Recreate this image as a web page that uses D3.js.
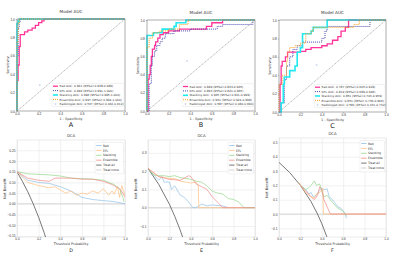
<!DOCTYPE html>
<html>
<head>
<meta charset="utf-8">
<script src="https://cdn.jsdelivr.net/npm/d3@7"></script>
<style>
  body { margin: 0; background: #fff; }
  svg { display: block; font-family: "DejaVu Sans", sans-serif; }
</style>
</head>
<body>
<div id="chart"></div>
<script>
// ---- ROC data: [1 - specificity, sensitivity] step corners ----
const rocTicks = [0, 0.2, 0.4, 0.6, 0.8, 1.0]

const rocA_rad = [[0,0],[0,0.33],[0.01,0.5],[0.02,0.7],[0.03,0.83],[0.07,0.86],[0.1,0.88],[0.14,0.9],[0.17,0.93],[0.2,0.96],[0.23,0.98],[0.25,1],[1,1]]
const rocA_dtl = [[0,0],[0,0.6],[0.01,0.9],[0.02,0.97],[0.03,1],[1,1]]
const rocA_stk = [[0,0],[0,0.95],[0.01,0.98],[0.02,1],[1,1]]
const rocA_ens = [[0,0],[0,0.75],[0.01,0.95],[0.02,1],[1,1]]
const rocA_doc = [0.21, 0.28]
const rocA_labels = [
  "Rad AUC: 0.961 (95%CI 0.938-0.986)",
  "DTL AUC: 0.996 (95%CI 0.991-1.000)",
  "Stacking AUC: 0.998 (95%CI 0.995-1.000)",
  "Ensemble AUC: 0.997 (95%CI 0.994-1.000)",
  "Radiologist AUC: 0.537 (95%CI 0.462-0.612)"]

const rocB_rad = [[0,0],[0.01,0.35],[0.02,0.4],[0.03,0.5],[0.04,0.6],[0.05,0.68],[0.07,0.72],[0.08,0.76],[0.1,0.8],[0.12,0.84],[0.15,0.86],[0.2,0.88],[0.3,0.9],[0.55,0.93],[0.6,0.97],[0.7,1],[1,1]]
const rocB_dtl = [[0,0],[0.02,0.3],[0.04,0.5],[0.05,0.6],[0.07,0.66],[0.09,0.72],[0.12,0.76],[0.14,0.8],[0.17,0.85],[0.25,0.88],[0.4,0.9],[0.65,0.93],[0.7,0.95],[0.98,1],[1,1]]
const rocB_stk = [[0,0],[0,0.83],[0.06,0.86],[0.14,0.9],[0.25,0.93],[0.27,0.97],[0.36,1],[1,1]]
const rocB_ens = [[0,0],[0,0.7],[0.02,0.8],[0.05,0.86],[0.12,0.88],[0.2,0.9],[0.3,0.95],[0.38,1],[1,1]]
const rocB_doc = [0.37, 0.545]
const rocB_labels = [
  "Rad AUC: 0.899 (95%CI 0.833-0.965)",
  "DTL AUC: 0.893 (95%CI 0.821-0.965)",
  "Stacking AUC: 0.965 (95%CI 0.931-0.999)",
  "Ensemble AUC: 0.961 (95%CI 0.924-0.998)",
  "Radiologist AUC: 0.587 (95%CI 0.484-0.690)"]

const rocC_rad = [[0,0],[0.01,0.3],[0.02,0.5],[0.03,0.55],[0.06,0.6],[0.08,0.65],[0.2,0.66],[0.25,0.68],[0.3,0.7],[0.4,0.72],[0.45,0.74],[0.5,0.78],[0.55,0.82],[0.58,0.88],[0.62,0.92],[0.65,1],[1,1]]
const rocC_dtl = [[0,0],[0.02,0.1],[0.05,0.35],[0.07,0.5],[0.1,0.6],[0.13,0.68],[0.17,0.72],[0.22,0.76],[0.4,0.8],[0.43,0.88],[0.45,0.93],[0.85,1],[1,1]]
const rocC_stk = [[0,0],[0.02,0.1],[0.04,0.3],[0.05,0.38],[0.1,0.45],[0.15,0.5],[0.17,0.65],[0.2,0.7],[0.22,0.85],[0.3,0.88],[0.32,0.92],[0.45,1],[1,1]]
const rocC_ens = [[0,0],[0,0.3],[0.03,0.4],[0.07,0.55],[0.08,0.65],[0.1,0.7],[0.15,0.72],[0.2,0.75],[0.25,0.85],[0.3,0.88],[0.32,0.92],[0.7,0.95],[0.75,1],[1,1]]
const rocC_doc = [0.35, 0.51]
const rocC_labels = [
  "Rad AUC: 0.787 (95%CI 0.645-0.929)",
  "DTL AUC: 0.819 (95%CI 0.689-0.948)",
  "Stacking AUC: 0.851 (95%CI 0.743-0.959)",
  "Ensemble AUC: 0.851 (95%CI 0.736-0.966)",
  "Radiologist AUC: 0.581 (95%CI 0.431-0.732)"]

// ---- DCA data: [threshold, net benefit] ----
const dcaNames = ["Red", "EFL", "Stacking", "Ensemble", "Treat all", "Treat none"]
const dcaTicksX = [0, 0.2, 0.4, 0.6, 0.8, 1.0]

const dcaD_red = [[0,0.15],[0.1,0.11],[0.2,0.1],[0.3,0.095],[0.4,0.08],[0.5,0.06],[0.6,0.03],[0.7,0.02],[0.8,0.015],[0.9,0.01],[1,0]]
const dcaD_efl = [[0,0.15],[0.1,0.1],[0.2,0.085],[0.3,0.075],[0.35,0.08],[0.4,0.065],[0.45,0.05],[0.5,0.06],[0.55,0.04],[0.6,0.05],[0.65,0.045],[0.7,0.06],[0.75,0.05],[0.8,0.07],[0.85,0.04],[0.88,0.06],[0.9,0.045],[0.93,0.08],[0.95,0.03],[0.97,0.085],[1,0.04]]
const dcaD_stk = [[0,0.15],[0.1,0.14],[0.3,0.135],[0.4,0.13],[0.5,0.12],[0.7,0.115],[0.8,0.11],[0.9,0.09],[0.95,0.07],[0.98,0.03],[0.99,0.01]]
const dcaD_ens = [[0,0.15],[0.1,0.12],[0.2,0.11],[0.3,0.105],[0.35,0.12],[0.5,0.12],[0.6,0.115],[0.7,0.115],[0.8,0.105],[0.88,0.09],[0.95,0.07],[0.98,0.05],[1,0.03]]
const dcaD_all = [[0,0.15],[0.05,0.105],[0.1,0.056],[0.15,0.0],[0.2,-0.0625],[0.25,-0.133],[0.27,-0.164]]
const dcaD_none = [[0,0],[1,0]]

const dcaE_red = [[0,0.215],[0.1,0.15],[0.13,0.17],[0.15,0.14],[0.2,0.14],[0.22,0.1],[0.25,0.12],[0.3,0.07],[0.33,0.06],[0.35,0.05],[0.38,0.03],[0.42,0],[0.45,0],[0.5,0.02],[0.55,0.01],[0.6,0.015],[0.7,0.01],[0.75,0]]
const dcaE_efl = [[0,0.215],[0.1,0.17],[0.15,0.165],[0.2,0.16],[0.25,0.16],[0.3,0.145],[0.35,0.14],[0.4,0.135],[0.45,0.14],[0.47,0.12],[0.475,0],[1,0]]
const dcaE_stk = [[0,0.215],[0.05,0.18],[0.1,0.175],[0.15,0.175],[0.2,0.17],[0.25,0.175],[0.3,0.165],[0.35,0.16],[0.4,0.155],[0.45,0.145],[0.5,0.14],[0.55,0.12],[0.6,0.09],[0.65,0.08],[0.7,0.075],[0.75,0.05],[0.8,0.045],[0.85,0.03],[0.88,0.01],[0.9,0],[1,0]]
const dcaE_ens = [[0,0.215],[0.1,0.17],[0.2,0.155],[0.3,0.15],[0.35,0.165],[0.38,0.175],[0.4,0.17],[0.45,0.13],[0.5,0.115],[0.55,0.1],[0.6,0.06],[0.65,0.03],[0.7,0],[1,0]]
const dcaE_all = [[0,0.215],[0.1,0.128],[0.2,0.019],[0.25,-0.047],[0.3,-0.121],[0.33,-0.172]]
const dcaE_none = [[0,0],[1,0]]

const dcaF_red = [[0.18,0.22],[0.2,0.2],[0.25,0.17],[0.28,0.14],[0.3,0.15],[0.32,0.12],[0.35,0.13],[0.38,0.17],[0.4,0.18],[0.42,0.17],[0.45,0.175],[0.47,0.12],[0.5,0.1],[0.52,0.08],[0.55,0.05],[0.58,0.04],[0.6,0.02],[0.62,0],[0.63,-0.03]]
const dcaF_efl = [[0.18,0.22],[0.2,0.2],[0.25,0.15],[0.3,0.12],[0.33,0.11],[0.35,0.14],[0.38,0.15],[0.4,0.17],[0.41,0.18],[0.415,0],[1,0]]
const dcaF_stk = [[0.18,0.22],[0.2,0.2],[0.25,0.17],[0.28,0.185],[0.3,0.2],[0.33,0.23],[0.35,0.2],[0.38,0.21],[0.4,0.16],[0.42,0.12],[0.45,0.13],[0.48,0.1],[0.5,0.08],[0.55,0.04],[0.6,0.02],[0.63,-0.01]]
const dcaF_ens = [[0.18,0.22],[0.2,0.2],[0.25,0.16],[0.3,0.12],[0.33,0.1],[0.36,0.13],[0.38,0.19],[0.4,0.17],[0.42,0.1],[0.45,0.05],[0.48,0],[1,0]]
const dcaF_all = [[0,0.36],[0.1,0.289],[0.2,0.2],[0.3,0.086],[0.36,0],[0.4,-0.067],[0.45,-0.164]]
const dcaF_none = [[0,0],[1,0]]

const rocStyle = [
  { color: "#ff3399", width: 1.3, dash: null },
  { color: "#4a4ab0", width: 1.0, dash: "1,1" },
  { color: "#22e8f0", width: 1.6, dash: null },
  { color: "#ff9f1c", width: 1.0, dash: "1,1" }
]
const dcaColors = ["#8fc0e6", "#ffbf7f", "#93d68b", "#f08a85", "#555555", "#c8c8c8"]

const svg = d3.select("#chart").append("svg")
  .attr("width", 400).attr("height", 253)

function rocPanel(box, series, doc, labels, title, letter) {
  const x = d3.scaleLinear().domain([0, 1]).range([box.x0, box.x1])
  const y = d3.scaleLinear().domain([0, 1]).range([box.y1, box.y0])
  const g = svg.append("g")

  g.append("g")
    .attr("transform", `translate(0,${box.y1})`)
    .call(d3.axisBottom(x).tickValues(rocTicks).tickFormat(d3.format(".1f")).tickSize(1.2).tickPadding(1))
    .call(a => a.select(".domain").remove())
    .call(a => a.selectAll("line").attr("stroke", "#555").attr("stroke-width", 0.4))
    .call(a => a.selectAll("text").attr("font-size", 3.2).attr("fill", "#333"))
  g.append("g")
    .attr("transform", `translate(${box.x0},0)`)
    .call(d3.axisLeft(y).tickValues(rocTicks).tickFormat(d3.format(".1f")).tickSize(1.2).tickPadding(1))
    .call(a => a.select(".domain").remove())
    .call(a => a.selectAll("line").attr("stroke", "#555").attr("stroke-width", 0.4))
    .call(a => a.selectAll("text").attr("font-size", 3.2).attr("fill", "#333"))

  // chance line
  g.append("path")
    .attr("d", d3.line()([[x(0), y(0)], [x(1), y(1)]]))
    .attr("stroke", "#666").attr("stroke-width", 0.5).attr("stroke-dasharray", "1.2,0.8").attr("fill", "none")

  const line = d3.line().x(d => x(d[0])).y(d => y(d[1])).curve(d3.curveStepAfter)
  series.forEach((s, i) => {
    g.append("path").attr("d", line(s))
      .attr("fill", "none")
      .attr("stroke", rocStyle[i].color)
      .attr("stroke-width", rocStyle[i].width)
      .attr("stroke-dasharray", rocStyle[i].dash)
  })

  g.append("text").attr("x", x(doc[0])).attr("y", y(doc[1]) + 1)
    .attr("text-anchor", "middle").attr("font-size", 3).attr("fill", "#6c8fe0").text("x")

  g.append("rect")
    .attr("x", box.x0).attr("y", box.y0)
    .attr("width", box.x1 - box.x0).attr("height", box.y1 - box.y0)
    .attr("fill", "none").attr("stroke", "#777").attr("stroke-width", 0.6)

  // legend
  const lg = g.append("g")
  lg.append("rect")
    .attr("x", box.lx).attr("y", y(0.3)).attr("width", box.x1 - 1 - box.lx).attr("height", y(0.05) - y(0.3))
    .attr("fill", "#fff").attr("fill-opacity", 0.85).attr("stroke", "#ddd").attr("stroke-width", 0.4).attr("rx", 0.8)
  labels.forEach((t, i) => {
    const ly = y(0.3) + 2.8 + i * 4.4
    if (i < 4) {
      lg.append("line").attr("x1", box.lx + 1).attr("x2", box.lx + 6).attr("y1", ly).attr("y2", ly)
        .attr("stroke", rocStyle[i].color).attr("stroke-width", rocStyle[i].width)
        .attr("stroke-dasharray", rocStyle[i].dash)
    } else {
      lg.append("text").attr("x", box.lx + 3.5).attr("y", ly + 1).attr("text-anchor", "middle")
        .attr("font-size", 3).attr("fill", "#6c8fe0").text("x")
    }
    lg.append("text").attr("x", box.lx + 7.5).attr("y", ly + 1.1)
      .attr("font-size", 2.9).attr("fill", "#333").text(t)
  })

  const cx = (box.x0 + box.x1) / 2
  g.append("text").attr("x", cx).attr("y", box.y0 - 6).attr("text-anchor", "middle")
    .attr("font-size", 4.2).attr("fill", "#333").text(title)
  g.append("text").attr("x", cx).attr("y", box.y1 + 8.5).attr("text-anchor", "middle")
    .attr("font-size", 3.4).attr("fill", "#333").text("1 - Specificity")
  g.append("text").attr("transform", `translate(${box.x0 - 8},${(box.y0 + box.y1) / 2}) rotate(-90)`)
    .attr("text-anchor", "middle").attr("font-size", 3.4).attr("fill", "#333").text("Sensitivity")
  g.append("text").attr("x", cx).attr("y", box.y1 + 15.5).attr("text-anchor", "middle")
    .attr("font-size", 6.5).attr("fill", "#222").text(letter)
}

function dcaPanel(box, series, yTicks, fmt, letter, id) {
  const x = d3.scaleLinear().domain([0, 1]).range([box.x0, box.x1])
  const y = d3.scaleLinear().domain(box.dom).range([box.y1, box.y0])
  const g = svg.append("g")

  g.append("clipPath").attr("id", id).append("rect")
    .attr("x", box.x0).attr("y", box.y0).attr("width", box.x1 - box.x0).attr("height", box.y1 - box.y0)

  g.append("g")
    .attr("transform", `translate(0,${box.y1})`)
    .call(d3.axisBottom(x).tickValues(dcaTicksX).tickFormat(d3.format(".1f")).tickSize(-(box.y1 - box.y0)).tickPadding(1.2))
    .call(a => a.select(".domain").remove())
    .call(a => a.selectAll("line").attr("stroke", "#e3e3e3").attr("stroke-width", 0.5))
    .call(a => a.selectAll("text").attr("font-size", 3.1).attr("fill", "#333"))
  g.append("g")
    .attr("transform", `translate(${box.x0},0)`)
    .call(d3.axisLeft(y).tickValues(yTicks).tickFormat(d3.format(fmt)).tickSize(-(box.x1 - box.x0)).tickPadding(1.5))
    .call(a => a.select(".domain").remove())
    .call(a => a.selectAll("line").attr("stroke", "#e3e3e3").attr("stroke-width", 0.5))
    .call(a => a.selectAll("text").attr("font-size", 3.2).attr("fill", "#333"))

  g.append("rect")
    .attr("x", box.x0).attr("y", box.y0)
    .attr("width", box.x1 - box.x0).attr("height", box.y1 - box.y0)
    .attr("fill", "none").attr("stroke", "#d8d8d8").attr("stroke-width", 0.5)

  const line = d3.line().x(d => x(d[0])).y(d => y(d[1]))
  const order = [5, 4, 0, 1, 2, 3]
  const plot = g.append("g").attr("clip-path", `url(#${id})`)
  order.forEach(i => {
    plot.append("path").attr("d", line(series[i]))
      .attr("fill", "none").attr("stroke", dcaColors[i])
      .attr("stroke-width", i === 4 ? 0.8 : 0.7)
  })

  // legend
  const lg = g.append("g")
  lg.append("rect").attr("x", box.lx).attr("y", box.y0 + 2.5)
    .attr("width", box.x1 - 1.5 - box.lx).attr("height", 6 * 4.9 + 2)
    .attr("fill", "#fff").attr("fill-opacity", 0.85).attr("stroke", "#ddd").attr("stroke-width", 0.4).attr("rx", 0.8)
  dcaNames.forEach((n, i) => {
    const ly = box.y0 + 5.5 + i * 4.9
    lg.append("line").attr("x1", box.lx + 1.2).attr("x2", box.lx + 6.5).attr("y1", ly).attr("y2", ly)
      .attr("stroke", dcaColors[i]).attr("stroke-width", 0.8)
    lg.append("text").attr("x", box.lx + 8).attr("y", ly + 1.1)
      .attr("font-size", 3).attr("fill", "#333").text(n)
  })

  const cx = (box.x0 + box.x1) / 2
  g.append("text").attr("x", cx).attr("y", box.y0 - 3).attr("text-anchor", "middle")
    .attr("font-size", 3.8).attr("fill", "#333").text("DCA")
  g.append("text").attr("x", cx).attr("y", 244.6).attr("text-anchor", "middle")
    .attr("font-size", 3.3).attr("fill", "#333").text("Threshold Probability")
  g.append("text").attr("transform", `translate(${box.x0 - 11},${(box.y0 + box.y1) / 2}) rotate(-90)`)
    .attr("text-anchor", "middle").attr("font-size", 3.6).attr("fill", "#333").text("Net Benefit")
  g.append("text").attr("x", cx).attr("y", 251.6).attr("text-anchor", "middle")
    .attr("font-size", 4.8).attr("fill", "#222").text(letter)
}

rocPanel({ x0: 17, x1: 125, y0: 19, y1: 111, lx: 52 },
  [rocA_rad, rocA_dtl, rocA_stk, rocA_ens], rocA_doc, rocA_labels, "Model AUC", "A")
rocPanel({ x0: 147, x1: 255, y0: 20, y1: 111, lx: 182 },
  [rocB_rad, rocB_dtl, rocB_stk, rocB_ens], rocB_doc, rocB_labels, "Model AUC", "B")
rocPanel({ x0: 279, x1: 386, y0: 20, y1: 112, lx: 314 },
  [rocC_rad, rocC_dtl, rocC_stk, rocC_ens], rocC_doc, rocC_labels, "Model AUC", "C")

dcaPanel({ x0: 17, x1: 125, y0: 140, y1: 237, dom: [-0.155, 0.298], lx: 95 },
  [dcaD_red, dcaD_efl, dcaD_stk, dcaD_ens, dcaD_all, dcaD_none],
  [-0.15, -0.10, -0.05, 0, 0.05, 0.10, 0.15, 0.20, 0.25], ".2f", "D", "clipD")
dcaPanel({ x0: 148, x1: 255, y0: 140, y1: 237, dom: [-0.16, 0.37], lx: 228 },
  [dcaE_red, dcaE_efl, dcaE_stk, dcaE_ens, dcaE_all, dcaE_none],
  [-0.1, 0, 0.1, 0.2, 0.3], ".1f", "E", "clipE")
dcaPanel({ x0: 279, x1: 386, y0: 138, y1: 237, dom: [-0.16, 0.53], lx: 360 },
  [dcaF_red, dcaF_efl, dcaF_stk, dcaF_ens, dcaF_all, dcaF_none],
  [-0.1, 0, 0.1, 0.2, 0.3, 0.4, 0.5], ".1f", "F", "clipF")
</script>
</body>
</html>
